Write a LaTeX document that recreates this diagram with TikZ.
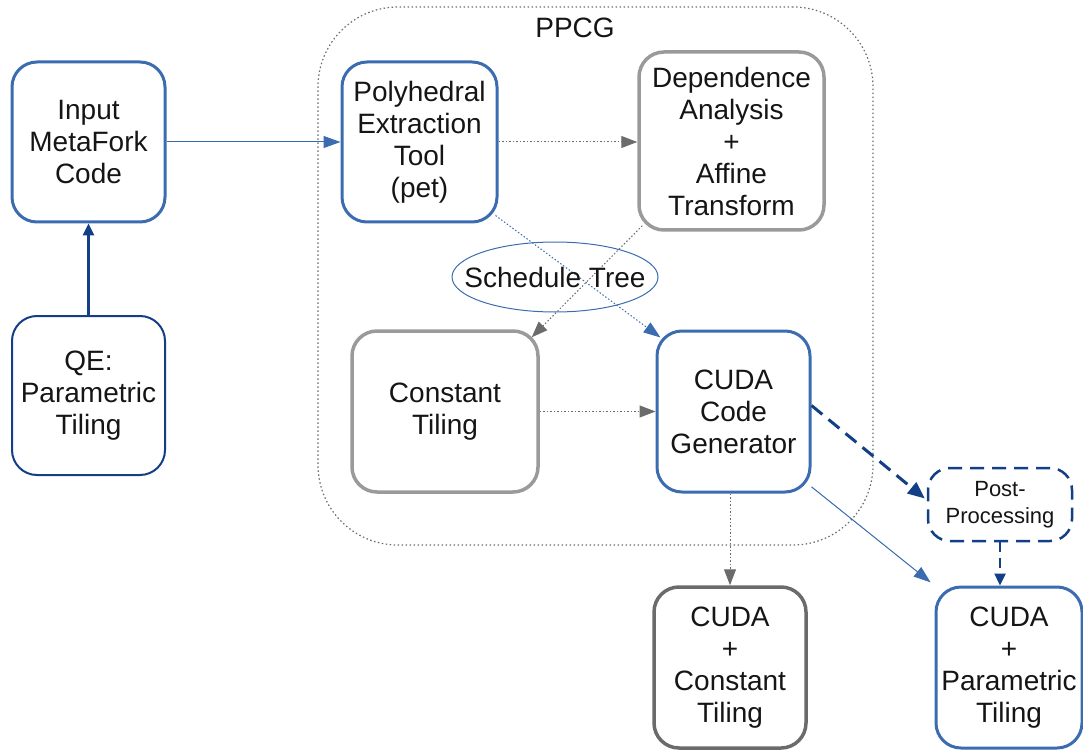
\documentclass[tikz,border=0pt]{standalone}
\usepackage{fontspec}
\setmainfont{Liberation Sans}
\usetikzlibrary{arrows.meta,shapes.geometric,calc}
\definecolor{cblue}{HTML}{3B6CB0}
\definecolor{cnavy}{HTML}{123F86}
\definecolor{cgray}{HTML}{9A9A9A}
\definecolor{cdgray}{HTML}{6B6B6B}
\definecolor{ctext}{HTML}{151515}
\begin{document}
\begin{tikzpicture}[x=1pt,y=-1pt,
  every node/.style={text=ctext,font=\fontsize{28}{32}\selectfont,align=center,inner sep=0pt},
  box/.style={draw,rounded corners=25pt,line width=3pt},
  bluebox/.style={box,draw=cblue},
  graybox/.style={box,draw=cgray,line width=3.5pt},
  dgraybox/.style={box,draw=cdgray,line width=3.5pt},
  navybox/.style={box,draw=cnavy,line width=2pt},
  bluearrow/.style={draw=cblue,line width=1pt,-{Triangle[length=17pt,width=12pt]},fill=cblue},
  dotgray/.style={draw=cdgray,line width=1pt,dash pattern=on 1.5pt off 2pt,-{Triangle[length=16pt,width=12pt]}},
  dotblue/.style={draw=cblue,line width=1pt,dash pattern=on 1.5pt off 2pt,-{Triangle[length=17pt,width=12pt]}},
]
\useasboundingbox (0,0) rectangle (1083,751);
% container
\node[draw=cdgray,line width=1.2pt,dash pattern=on 1.5pt off 2.5pt,rounded corners=80pt,
  minimum width=555pt,minimum height=538pt] (ppcg) at (595.5,276) {};
\node (ppcglabel) at (575,28) {PPCG};
% nodes
\node[bluebox,minimum width=153pt,minimum height=160pt] (inp) at (88.5,142) {Input\\MetaFork\\Code};
\node[navybox,minimum width=153pt,minimum height=159pt] (qe) at (88.5,395.5) {QE:\\Parametric\\Tiling};
\node[bluebox,minimum width=155pt,minimum height=160pt] (poly) at (419.5,142) {Polyhedral\\Extraction\\Tool\\(pet)};
\node[graybox,minimum width=185pt,minimum height=178pt] (dep) at (731.5,141) {Dependence\\Analysis\\+\\Affine\\Transform};
\node[graybox,minimum width=186pt,minimum height=161pt] (cst) at (445,411.5) {Constant\\Tiling};
\node[bluebox,minimum width=153pt,minimum height=161pt] (gen) at (733.5,411.5) {CUDA\\Code\\Generator};
\node[draw=cnavy,line width=2.5pt,dash pattern=on 14pt off 8pt,rounded corners=22pt,
  minimum width=144pt,minimum height=73pt,font=\fontsize{22}{27}\selectfont] (post) at (1000,504.5) {Post-\\Processing};
\node[dgraybox,minimum width=152pt,minimum height=161pt] (cc) at (730,667.5) {CUDA\\+\\Constant\\Tiling};
\node[bluebox,minimum width=146pt,minimum height=161pt] (cp) at (1009,667.5) {CUDA\\+\\Parametric\\Tiling};
% connectors
\draw[draw=cnavy,line width=2.5pt,-{Triangle[length=12pt,width=11pt]}] (qe.north) -- (inp.south);
\draw[bluearrow] (inp.east) -- (poly.west);
\draw[dotgray] (poly.east) -- (poly.east -| dep.west);
\draw[dotblue] ($(poly.south east)+(-3,-8)$) -- ($(gen.north west)+(5,8)$);
\draw[dotgray] ($(dep.south west)+(5,-6)$) -- ($(cst.north east)+(-8,8)$);
\draw[dotgray] (cst.east) -- (gen.west);
\draw[dotgray] (cc.north |- gen.south) -- (cc.north);
\draw[draw=cnavy,line width=3pt,dash pattern=on 14pt off 8pt,-{Triangle[length=17pt,width=14pt]}] ($(gen.east)+(0,-6)$) -- ($(post.west)+(-2,-6)$);
\draw[draw=cnavy,line width=2.5pt,dash pattern=on 10pt off 6pt,-{Triangle[length=12pt,width=11pt]}] (post.south) -- (post.south |- cp.north);
\draw[bluearrow,shorten >=5pt] (gen.-44) -- (cp.north west);
% schedule tree (drawn over the crossing lines)
\node (sched) at (555,277) {Schedule Tree};
\draw[draw=cblue,line width=1pt] (sched.center) ellipse [x radius=103, y radius=35];
\end{tikzpicture}
\end{document}
